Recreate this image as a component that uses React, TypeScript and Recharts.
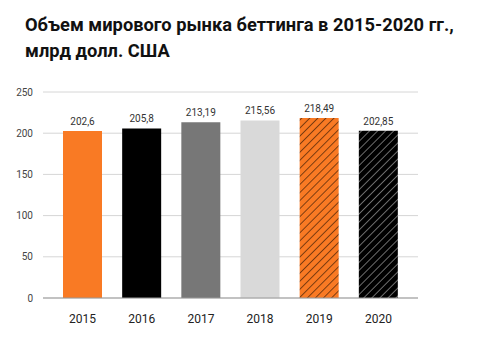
import React from 'react';
import { BarChart, Bar, XAxis, YAxis, CartesianGrid, Cell, LabelList } from 'recharts';

const years = ['2015', '2016', '2017', '2018', '2019', '2020'];
const values = [202.6, 205.8, 213.19, 215.56, 218.49, 202.85];
const valueLabels = ['202,6', '205,8', '213,19', '215,56', '218,49', '202,85'];
const yTicks = [0, 50, 100, 150, 200, 250];
const fills = ['#F97A24', '#000000', '#777777', '#D9D9D9', 'url(#hatchOrange)', 'url(#hatchBlack)'];

const data = years.map((year, i) => ({ year, value: values[i], label: valueLabels[i] }));

const FONT = 'Roboto, "Noto Sans", sans-serif';

const App: React.FC = () => {
  return (
    <div style={{ position: 'absolute', left: 0, top: 0, width: 477, height: 343, background: '#fff', fontFamily: FONT }}>
      <svg width={0} height={0} style={{ position: 'absolute' }}>
        <defs>
          <pattern id="hatchOrange" patternUnits="userSpaceOnUse" width={5.7} height={5.7} patternTransform="rotate(45)">
            <rect width={5.7} height={5.7} fill="#F97A24" />
            <line x1={0} y1={0} x2={0} y2={5.7} stroke="#3d1c05" strokeWidth={1.3} />
          </pattern>
          <pattern id="hatchBlack" patternUnits="userSpaceOnUse" width={5.7} height={5.7} patternTransform="rotate(45)">
            <rect width={5.7} height={5.7} fill="#000" />
            <line x1={0} y1={0} x2={0} y2={5.7} stroke="#c4c4c4" strokeWidth={1.1} />
          </pattern>
        </defs>
      </svg>
      <div
        style={{
          position: 'absolute',
          left: 25,
          top: 12,
          fontSize: 18.3,
          fontWeight: 700,
          lineHeight: '26px',
          color: '#111',
        }}
      >
        Объем мирового рынка беттинга в 2015-2020 гг.,
        <br />
        млрд долл. США
      </div>
      <div style={{ position: 'absolute', left: 0, top: 0 }}>
        <BarChart
          width={477}
          height={343}
          data={data}
          margin={{ top: 92, right: 59, bottom: 0, left: 0 }}
          barSize={39}
        >
          <CartesianGrid vertical={false} stroke="#d6d6d6" />
          <XAxis
            dataKey="year"
            height={45}
            padding={{ left: 10, right: 10 }}
            tickLine={false}
            axisLine={{ stroke: '#999' }}
            tick={{ fill: '#222', fontSize: 12, fontFamily: FONT }}
            tickMargin={10}
          />
          <YAxis
            width={43}
            domain={[0, 250]}
            ticks={yTicks}
            axisLine={false}
            tickLine={false}
            tick={{ fill: '#444', fontSize: 10, fontFamily: FONT }}
            tickMargin={4}
          />
          <Bar dataKey="value" isAnimationActive={false}>
            {data.map((_, i) => (
              <Cell key={i} fill={fills[i]} />
            ))}
            <LabelList dataKey="label" position="top" offset={6} style={{ fill: '#333', fontSize: 10, fontFamily: FONT }} />
          </Bar>
        </BarChart>
      </div>
    </div>
  );
};

export default App;
